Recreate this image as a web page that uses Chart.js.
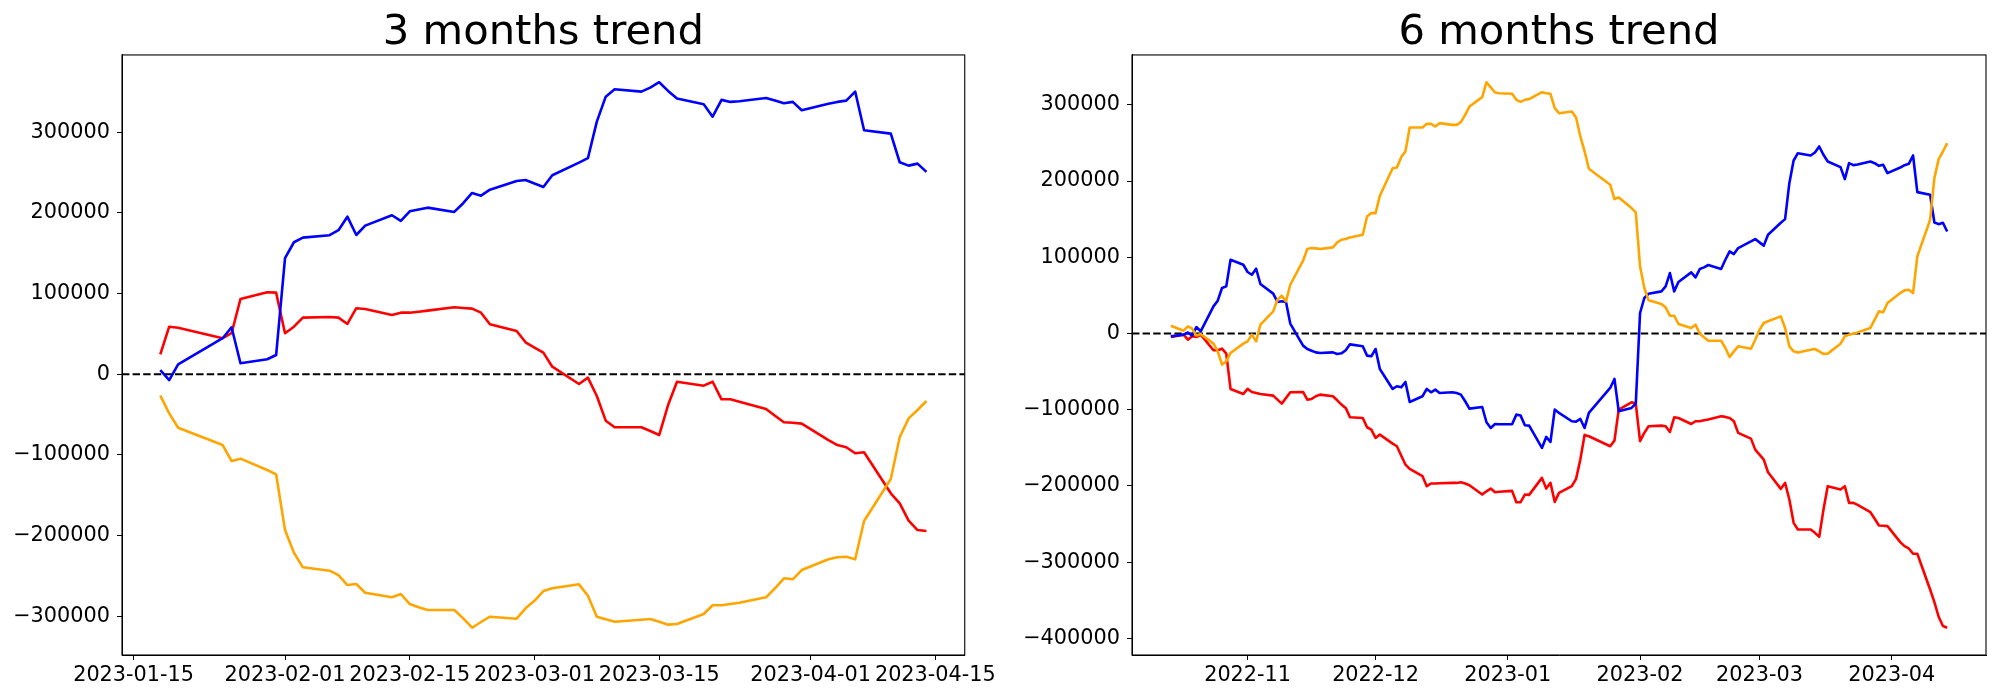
<!DOCTYPE html>
<html lang="en">
<head>
  <meta charset="UTF-8" />
  <title>3 / 6 months trend</title>
  <style>
    body {
      margin: 0;
      background: #fff;
      width: 2000px;
      height: 700px;
      position: relative;
      overflow: hidden;
    }
    .panel {
      position: absolute;
      top: 0;
      width: 1000px;
      height: 700px;
    }
    #left { left: 0; }
    #right { left: 1000px; }
  </style>
</head>
<body>
  <div class="panel" id="left"><canvas id="chart3m" width="1000" height="700"></canvas></div>
  <div class="panel" id="right"><canvas id="chart6m" width="1000" height="700"></canvas></div>

  <script src="https://cdn.jsdelivr.net/npm/chart.js"></script>
  <script>
    // --- 3 months data ---
    const dates3m = [
      '2023-01-18','2023-01-19','2023-01-20','2023-01-25','2023-01-26','2023-01-27','2023-01-30','2023-01-31',
      '2023-02-01','2023-02-02','2023-02-03','2023-02-06','2023-02-07','2023-02-08','2023-02-09','2023-02-10',
      '2023-02-13','2023-02-14','2023-02-15','2023-02-16','2023-02-17','2023-02-20','2023-02-21','2023-02-22',
      '2023-02-23','2023-02-24','2023-02-27','2023-02-28',
      '2023-03-01','2023-03-02','2023-03-03','2023-03-06','2023-03-07','2023-03-08','2023-03-09','2023-03-10',
      '2023-03-13','2023-03-14','2023-03-15','2023-03-16','2023-03-17','2023-03-20','2023-03-21','2023-03-22',
      '2023-03-23','2023-03-24','2023-03-27','2023-03-28','2023-03-29','2023-03-30','2023-03-31',
      '2023-04-03','2023-04-04','2023-04-05','2023-04-06','2023-04-07','2023-04-10','2023-04-11','2023-04-12',
      '2023-04-13','2023-04-14'
    ];
    const blue3m = [
      5100, -7300, 12200, 44500, 58100, 13500, 18400, 23700,
      143700, 163500, 169200, 172200, 178400, 195200, 172500, 184100, 197000, 189900, 201900, 204200,
      206400, 201100, 211900, 224600, 221300, 228700, 239500, 240700,
      236400, 232100, 246600, 262200, 267700, 313000, 344000, 353200, 350300, 355200, 361900, 351100,
      341600, 334600, 319200, 340000, 337500, 338400, 342400, 339100, 335800, 337500, 327200,
      335300, 337500, 339100, 350300, 302400, 298200, 262700, 258500, 261000, 250700
    ];
    const red3m = [
      24600, 58800, 57600, 44500, 50700, 93200, 101500, 101000,
      50700, 58800, 70000, 70900, 70000, 62200, 81700, 80800, 73300, 76200, 76200, 77400,
      78700, 82900, 82000, 81200, 76200, 61800, 53500, 39500,
      32900, 26600, 9200, -12200, -4400, -27100, -57700, -65900, -65900, -70500, -75500, -38300,
      -9400, -14300, -9400, -31200, -31200, -34100, -43200, -51500, -59700, -60200, -61400,
      -81700, -87900, -90700, -98100, -96900, -147700, -160200, -181700, -193300, -194500
    ];
    const orange3m = [
      -26700, -48600, -66400, -87900, -107700, -104800, -118900, -124200,
      -193300, -221400, -239500, -243700, -249100, -261500, -260200, -271000, -276700, -272600, -285000, -289000,
      -292500, -292500, -302800, -314400, -307300, -300700, -303200, -290300,
      -281000, -268900, -265500, -260600, -274700, -300700, -304000, -306900, -304500, -303600, -307000, -310600,
      -309800, -297400, -286600, -286600, -285000, -283500, -276700, -265500, -253100, -254400, -242900,
      -229600, -227100, -226400, -229600, -182100, -130000, -78300, -54800, -44500, -33300
    ];
    const ticks3m = ['2023-01-15','2023-02-01','2023-02-15','2023-03-01','2023-03-15','2023-04-01','2023-04-15'];
    const yTicks3m = [-300000, -200000, -100000, 0, 100000, 200000, 300000];

    // --- 6 months data ---
    const dates6m = [
      '2022-10-14','2022-10-17','2022-10-18','2022-10-19','2022-10-20','2022-10-21','2022-10-24','2022-10-25',
      '2022-10-26','2022-10-27','2022-10-28','2022-10-31',
      '2022-11-01','2022-11-02','2022-11-03','2022-11-04','2022-11-07','2022-11-08','2022-11-09','2022-11-10',
      '2022-11-11','2022-11-14','2022-11-15','2022-11-16','2022-11-17','2022-11-18','2022-11-21','2022-11-22',
      '2022-11-23','2022-11-24','2022-11-25','2022-11-28','2022-11-29','2022-11-30',
      '2022-12-01','2022-12-02','2022-12-05','2022-12-06','2022-12-07','2022-12-08','2022-12-09','2022-12-12',
      '2022-12-13','2022-12-14','2022-12-15','2022-12-16','2022-12-19','2022-12-20','2022-12-21','2022-12-22',
      '2022-12-23','2022-12-26','2022-12-27','2022-12-28','2022-12-29','2022-12-30',
      '2023-01-02','2023-01-03','2023-01-04','2023-01-05','2023-01-06','2023-01-09','2023-01-10','2023-01-11',
      '2023-01-12','2023-01-13','2023-01-16','2023-01-17','2023-01-18','2023-01-19','2023-01-20','2023-01-25',
      '2023-01-26','2023-01-27','2023-01-30','2023-01-31',
      '2023-02-01','2023-02-02','2023-02-03','2023-02-06','2023-02-07','2023-02-08','2023-02-09','2023-02-10',
      '2023-02-13','2023-02-14','2023-02-15','2023-02-16','2023-02-17','2023-02-20','2023-02-21','2023-02-22',
      '2023-02-23','2023-02-24','2023-02-27','2023-02-28',
      '2023-03-01','2023-03-02','2023-03-03','2023-03-06','2023-03-07','2023-03-08','2023-03-09','2023-03-10',
      '2023-03-13','2023-03-14','2023-03-15','2023-03-16','2023-03-17','2023-03-20','2023-03-21','2023-03-22',
      '2023-03-23','2023-03-24','2023-03-27','2023-03-28','2023-03-29','2023-03-30','2023-03-31',
      '2023-04-03','2023-04-04','2023-04-05','2023-04-06','2023-04-07','2023-04-10','2023-04-11','2023-04-12',
      '2023-04-13','2023-04-14'
    ];
    const blue6m = [
      -3700, -1500, 1300, -2800, 8500, 2900, 35600, 43100, 59700, 61900, 96800, 90200,
      80700, 77100, 85000, 65000, 52300, 41400, 42300, 41400, 13000, -15900, -20300, -22500,
      -24700, -25600, -24700, -26900, -26000, -22000, -14200, -16800, -29000, -29900,
      -20300, -46500, -72700, -69200, -70600, -63600, -89800, -82300, -72700, -77100, -73600, -78000,
      -77100, -78000, -80200, -88900, -98500, -96400, -116400, -123900, -118700, -119100,
      -119100, -106400, -107700, -120400, -120800, -150100, -135700, -142200, -99800, -104200,
      -115100, -115600, -112100, -123900, -104200, -71400, -59600, -102000, -97600, -92000,
      26900, 46600, 52200, 55300, 61900, 79300, 55300, 67600, 80200, 73600, 84600, 86800,
      89900, 84600, 96800, 107700, 104200, 112100, 120800, 123900,
      119600, 115300, 129600, 145300, 150100, 197300, 227000, 236600, 233600, 237500, 245400, 234500,
      225700, 218300, 202600, 223500, 220900, 221800, 225700, 223500, 220000, 221300, 210400,
      217800, 220900, 222600, 233600, 185500, 182000, 145700, 143500, 145300, 133900
    ];
    const red6m = [
      -4600, -1500, -8100, -3700, -4600, -1500, -22000, -22000, -19900, -26400, -72700, -79300,
      -72700, -76700, -78000, -79300, -81500, -86700, -92000, -84500, -77100, -76700, -86700, -85800,
      -82300, -80200, -82300, -87600, -93300, -97600, -109900, -110800, -123000, -126000,
      -137000, -132600, -144400, -147900, -160100, -171900, -177600, -187200, -200300, -196800, -196800, -196400,
      -196000, -196000, -195100, -196800, -199000, -211300, -207000, -203400, -208200, -207700,
      -206500, -221300, -221300, -211300, -211700, -189400, -203400, -196000, -220900, -209100,
      -200300, -190700, -165400, -133000, -134800, -147900, -140500, -99800, -90200, -91900,
      -141300, -130400, -121700, -120800, -121700, -129100, -109900, -110800, -118700, -115100, -115100, -113800,
      -112900, -108600, -109400, -110800, -115100, -130400, -137900, -152300,
      -158800, -165400, -182000, -203800, -196000, -217800, -248400, -257200, -257200, -261500, -266800, -231000,
      -200300, -204700, -200300, -222200, -222200, -224800, -234400, -243100, -251900, -252300, -252700,
      -273700, -279000, -282000, -289000, -289000, -335800, -352400, -371600, -383800, -386000
    ];
    const orange6m = [
      10300, 3700, 9400, 6400, -2800, -600, -13300, -23400, -40800, -36500, -25500, -13300,
      -10300, -1500, -10300, 11600, 29100, 44400, 49600, 42200, 64000, 95500, 110800, 112100,
      111700, 110800, 113000, 119500, 123000, 123900, 126100, 129600, 153600, 158000,
      158000, 180700, 216900, 217800, 231400, 238800, 270300, 270300, 275100, 275100, 271600, 276000,
      273700, 273700, 277300, 286900, 297800, 310100, 329700, 323000, 316200, 315300,
      314500, 306600, 304000, 306600, 307500, 316600, 315300, 314500, 295700, 289100,
      291300, 283400, 258600, 238900, 216200, 195200, 176400, 178600, 164600, 158900,
      88100, 59700, 43500, 38700, 34300, 23400, 23400, 12500, 7300, 11600, -200, -5000,
      -9400, -9400, -19000, -30800, -23400, -16800, -19900, -8100,
      5000, 13800, 16000, 22500, 7300, -16800, -23400, -25000, -21200, -20300, -23400, -26800,
      -26400, -13300, -3700, -1500, -200, 1500, 7300, 18200, 29100, 27800, 40000,
      53100, 56600, 57500, 53100, 101200, 149300, 203900, 228800, 238800, 249800
    ];
    const ticks6m = ['2022-11','2022-12','2023-01','2023-02','2023-03','2023-04'];
    const yTicks6m = [-400000, -300000, -200000, -100000, 0, 100000, 200000, 300000];

    Chart.defaults.font.family = "'DejaVu Sans', sans-serif";
    Chart.defaults.color = '#000';

    const dayNum = s => {
      const p = s.split('-').map(Number);
      return Date.UTC(p[0], p[1] - 1, p[2] || 1) / 864e5;
    };
    const fmtY = v => (v < 0 ? '\u2212' + Math.abs(v) : String(v));

    // axis box + dashed zero line
    const framePlugin = {
      id: 'frame',
      beforeDatasetsDraw(chart) {
        const { ctx, chartArea: a, scales } = chart;
        const y0 = scales.y.getPixelForValue(0);
        ctx.save();
        ctx.strokeStyle = '#000';
        ctx.lineWidth = 2;
        ctx.setLineDash([7.4, 3.2]);
        ctx.beginPath();
        ctx.moveTo(a.left, y0);
        ctx.lineTo(a.right, y0);
        ctx.stroke();
        ctx.restore();
      },
      afterDraw(chart) {
        const { ctx, chartArea: a } = chart;
        ctx.save();
        ctx.strokeStyle = '#000';
        ctx.lineWidth = 1.1;
        ctx.strokeRect(a.left, a.top, a.right - a.left, a.bottom - a.top);
        ctx.restore();
      }
    };

    function makeChart(id, title, dates, blue, red, orange, xTickLabels, yTicks, yAxisWidth, padRight) {
      const xs = dates.map(dayNum);
      const xTicks = xTickLabels.map(dayNum);
      const xPad = (xs[xs.length - 1] - xs[0]) * 0.05;
      const all = blue.concat(red, orange);
      const lo = Math.min(...all), hi = Math.max(...all);
      const yPad = (hi - lo) * 0.05;

      const line = (vals, color, order) => ({
        data: vals.map((v, i) => ({ x: xs[i], y: v })),
        borderColor: color,
        borderWidth: 2.6,
        borderJoinStyle: 'round',
        pointRadius: 0,
        tension: 0,
        fill: false,
        order: order
      });

      return new Chart(document.getElementById(id), {
        type: 'line',
        data: {
          datasets: [
            line(blue, '#0000ff', 2),
            line(red, '#ff0000', 3),
            line(orange, '#ffa500', 1)
          ]
        },
        options: {
          responsive: false,
          animation: false,
          events: [],
          layout: { padding: { left: 0, right: padRight, top: 0, bottom: 0 } },
          plugins: {
            legend: { display: false },
            tooltip: { enabled: false },
            title: {
              display: true,
              text: title,
              fullSize: false,
              color: '#000',
              font: { size: 41.7, weight: 'normal', lineHeight: 1.03 },
              padding: { top: 12, bottom: 0 }
            }
          },
          scales: {
            x: {
              type: 'linear',
              min: xs[0] - xPad,
              max: xs[xs.length - 1] + xPad,
              afterBuildTicks: s => { s.ticks = xTicks.map(v => ({ value: v })); },
              afterFit: s => { s.height = 45; },
              ticks: {
                autoSkip: false,
                maxRotation: 0,
                padding: 3,
                font: { size: 20.8 },
                callback: (v, i) => xTickLabels[i]
              },
              grid: { drawOnChartArea: false, tickLength: 5, color: '#000' },
              border: { color: '#000' }
            },
            y: {
              min: lo - yPad,
              max: hi + yPad,
              afterBuildTicks: s => { s.ticks = yTicks.map(v => ({ value: v })); },
              afterFit: s => { s.width = yAxisWidth; },
              ticks: {
                padding: 7,
                font: { size: 20.8 },
                callback: v => fmtY(v)
              },
              grid: { drawOnChartArea: false, tickLength: 5, color: '#000' },
              border: { color: '#000' }
            }
          }
        },
        plugins: [framePlugin]
      });
    }

    makeChart('chart3m', '3 months trend', dates3m, blue3m, red3m, orange3m, ticks3m, yTicks3m, 122, 24);
    makeChart('chart6m', '6 months trend', dates6m, blue6m, red6m, orange6m, ticks6m, yTicks6m, 132, 14);
  </script>
</body>
</html>
